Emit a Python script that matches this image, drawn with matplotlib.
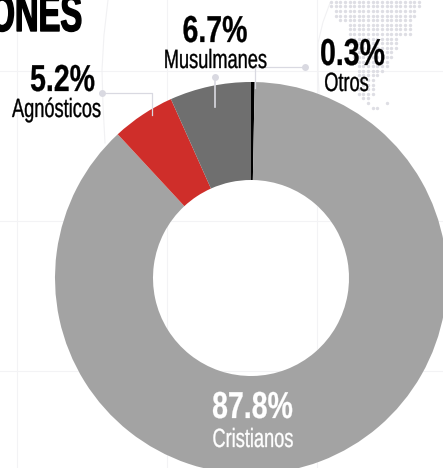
import matplotlib
matplotlib.use("Agg")
import matplotlib.pyplot as plt
from matplotlib.patheffects import AbstractPathEffect
from matplotlib.transforms import Affine2D

W, H = 443, 468
FONT = "Liberation Sans"

# data, clockwise from 12 o'clock
categories = ["Otros", "Cristianos", "Agnósticos", "Musulmanes"]
values = [0.3, 87.8, 5.2, 6.7]
colors = ["#000000", "#a3a3a3", "#cf2e2a", "#6f6f6f"]
title_fragment = "ONES"

grid_x = [17, 167, 317]
grid_y = [71, 221, 371]
arc_left_x = [108, 104, 102, 103, 105]
arc_left_y = [0, 35, 70, 105, 143]
arc_right_x = [330, 323, 318, 318, 319]
arc_right_y = [3, 22, 43, 70, 93]

# decorative dotted map: (row, first column, last column)
dot_rows = [(0, 0, 19), (1, 0, 19), (2, 1, 18), (3, 1, 18), (4, 2, 3), (4, 4, 17),
            (5, 4, 17), (6, 4, 17), (7, 4, 17), (8, 4, 14), (9, 4, 14), (10, 5, 14),
            (11, 5, 13), (12, 5, 13), (13, 5, 12), (14, 6, 12), (15, 6, 11),
            (16, 6, 10), (17, 6, 9), (18, 7, 9), (19, 6, 9), (20, 6, 9), (21, 7, 8),
            (22, 8, 8), (22, 12, 12), (23, 9, 10)]


class Condense(AbstractPathEffect):
    """Narrows a text horizontally about its anchor and thickens its strokes a little."""

    def __init__(self, sx, anchor, bold=0.0):
        super().__init__()
        self.sx = sx
        self.anchor = anchor
        self.bold = bold

    def draw_path(self, renderer, gc, tpath, affine, rgbFace=None):
        squeeze = Affine2D().translate(-self.anchor, 0).scale(self.sx, 1).translate(self.anchor, 0)
        gc0 = renderer.new_gc()
        gc0.copy_properties(gc)
        if self.bold > 0:
            gc0.set_linewidth(self.bold)
            gc0.set_foreground(rgbFace)
        renderer.draw_path(gc0, tpath, affine + squeeze, rgbFace)
        gc0.restore()


fig = plt.figure(figsize=(W / 100, H / 100), dpi=100, facecolor="white")
ax = fig.add_axes([0, 0, 1, 1])
ax.set_xlim(0, W)
ax.set_ylim(0, H)
ax.axis("off")


def Y(py):
    return H - py


for x in grid_x:
    ax.plot([x, x], [0, H], color="#f3f3f5", lw=0.8, zorder=1)
for y in grid_y:
    ax.plot([0, W], [Y(y), Y(y)], color="#f3f3f5", lw=0.8, zorder=1)
ax.plot(arc_left_x, [Y(v) for v in arc_left_y], color="#f1f1f3", lw=0.8, zorder=1)
ax.plot(arc_right_x, [Y(v) for v in arc_right_y], color="#f1f1f3", lw=0.8, zorder=1)

dx, dy = 4.63, 4.6
xs, ys = [], []
for r, a, b in dot_rows:
    for c in range(a, b + 1):
        xs.append(331 + c * dx)
        ys.append(Y(1.7 + r * dy))
ax.scatter(xs, ys, s=6, color="#dedee4", linewidths=0, zorder=1.5)

ax.pie(values, colors=colors, startangle=90, counterclock=False,
       center=(251, Y(278)), radius=196, frame=True,
       wedgeprops=dict(width=98, linewidth=0))
ax.set_xlim(0, W)
ax.set_ylim(0, H)
ax.set_aspect("equal")
ax.axis("off")

LINE = "#d9d9e1"
ax.plot([102, 152, 152], [Y(93), Y(93), Y(115)], color=LINE, lw=0.9, zorder=5)
ax.plot([215, 215], [Y(77), Y(107)], color=LINE, lw=1.2, zorder=5)
ax.plot([305, 255, 255], [Y(67), Y(67), Y(88)], color=LINE, lw=0.9, zorder=5)
ax.scatter([102, 215, 305], [Y(93), Y(77), Y(67)], s=25, color=LINE, linewidths=0, zorder=5)


def put(cx, base, s, size, sx, color="#000000", weight="normal", ha="center", bold=0.0):
    t = ax.text(cx, Y(base), s, ha=ha, va="baseline", color=color, fontsize=size,
                fontweight=weight, family=FONT, zorder=6, clip_on=False)
    t.set_path_effects([Condense(sx, cx, bold)])


def label(pct_x, pct_base, name_x, name_base, pct, name, color="#000000", name_ha="center"):
    put(pct_x, pct_base, pct, 27, 0.76, color, "bold", bold=0.2)
    put(name_x, name_base, name, 19, 0.69, color, ha=name_ha, bold=0.25)


label(62.5, 91, 12, 117, "5.2%", categories[2], name_ha="left")
label(215, 42, 215.5, 68, "6.7%", categories[3])
label(352.5, 65, 346.5, 91, "0.3%", categories[0])
label(252.5, 418, 253, 447, "87.8%", categories[1], color="#ffffff")

put(82, 31, title_fragment, 38, 0.62, weight="bold", ha="right", bold=1.0)

fig.savefig("out.png", dpi=100, facecolor="white")
